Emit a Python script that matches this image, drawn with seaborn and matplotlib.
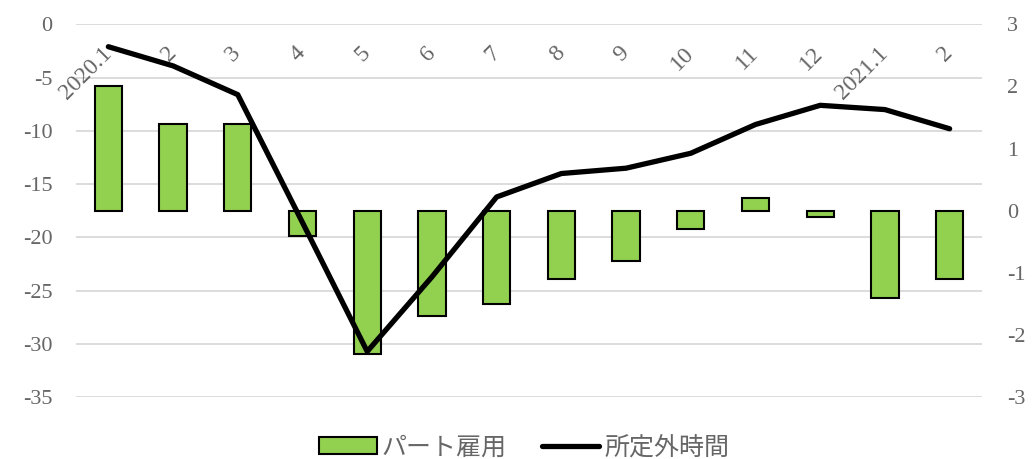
import numpy as np
import matplotlib
matplotlib.use("Agg")
import matplotlib.pyplot as plt
from matplotlib.ticker import FixedLocator
import seaborn as sns

# month labels (positions 0..13, "2" appears twice so plot by index)
months = ['2020.1', '2', '3', '4', '5', '6', '7', '8', '9', '10', '11', '12', '2021.1', '2']
# part-time employment (right axis, bars)
part_time = [2.0, 1.4, 1.4, -0.4, -2.3, -1.7, -1.5, -1.1, -0.8, -0.3, 0.2, -0.1, -1.4, -1.1]
# overtime hours (left axis, line)
overtime = [-2.1, -3.9, -6.6, -18.6, -30.7, -23.7, -16.2, -14.0, -13.5, -12.1, -9.4, -7.6, -8.0, -9.8]

GREEN = '#92D050'
TEXT = '#666666'
GRID = '#D9D9D9'

sns.set_theme(style='white')
plt.rcParams['font.family'] = ['Liberation Serif', 'Noto Sans CJK JP', 'DejaVu Sans']
plt.rcParams['axes.unicode_minus'] = False

fig = plt.figure(figsize=(10.34, 4.59), dpi=100)
ax = fig.add_axes([0.0735, 0.1344, 0.8762, 0.8126])

x = np.arange(len(months))

# bars on the right-hand scale
sns.barplot(x=x, y=part_time, ax=ax, color=GREEN, edgecolor='black',
            linewidth=1.5, width=0.42, saturation=1, label='パート雇用')

# line on the left-hand scale
ax2 = ax.twinx()
sns.lineplot(x=x, y=overtime, ax=ax2, color='black', linewidth=3.8,
             solid_capstyle='round', label='所定外時間')

ax.set_ylim(-3, 3)
ax.set_xlim(-0.5, len(months) - 0.5)
ax.yaxis.tick_right()
ax.set_yticks(np.arange(-3, 4, 1))
ax.yaxis.remove_overlapping_locs = False
ax.yaxis.set_minor_locator(FixedLocator(np.linspace(-3, 3, 8)))
ax.grid(False)
ax.grid(which='minor', axis='y', color=GRID, linewidth=1.3)
ax.set_axisbelow(True)
ax.tick_params(axis='y', which='both', length=0, pad=18, labelsize=16, colors=TEXT)
ax.tick_params(axis='x', length=0, labelbottom=False)

ax2.set_ylim(-35, 0)
ax2.set_yticks(np.arange(-35, 1, 5))
ax2.yaxis.tick_left()
ax2.tick_params(axis='y', length=0, pad=17, labelsize=16, colors=TEXT)
ax2.grid(False)
ax2.set_xlim(-0.5, len(months) - 0.5)

for a in (ax, ax2):
    a.set_xlabel('')
    a.set_ylabel('')
    for s in a.spines.values():
        s.set_visible(False)
    if a.get_legend() is not None:
        a.get_legend().remove()

# category labels sit inside the top of the plot
for i, m in enumerate(months):
    ax2.text(i, 0.931, m, transform=ax2.get_xaxis_transform(), rotation=45,
             ha='right', va='center', rotation_mode='anchor',
             fontsize=17, color=TEXT)

h1, l1 = ax.get_legend_handles_labels()
h2, l2 = ax2.get_legend_handles_labels()
fig.legend(h1 + h2, l1 + l2, loc='center', bbox_to_anchor=(0.507, 0.025),
           ncol=2, frameon=False, fontsize=18, handlelength=2.3,
           handletextpad=0.2, columnspacing=1.4, labelcolor=TEXT)

fig.savefig('out.png', dpi=100)
